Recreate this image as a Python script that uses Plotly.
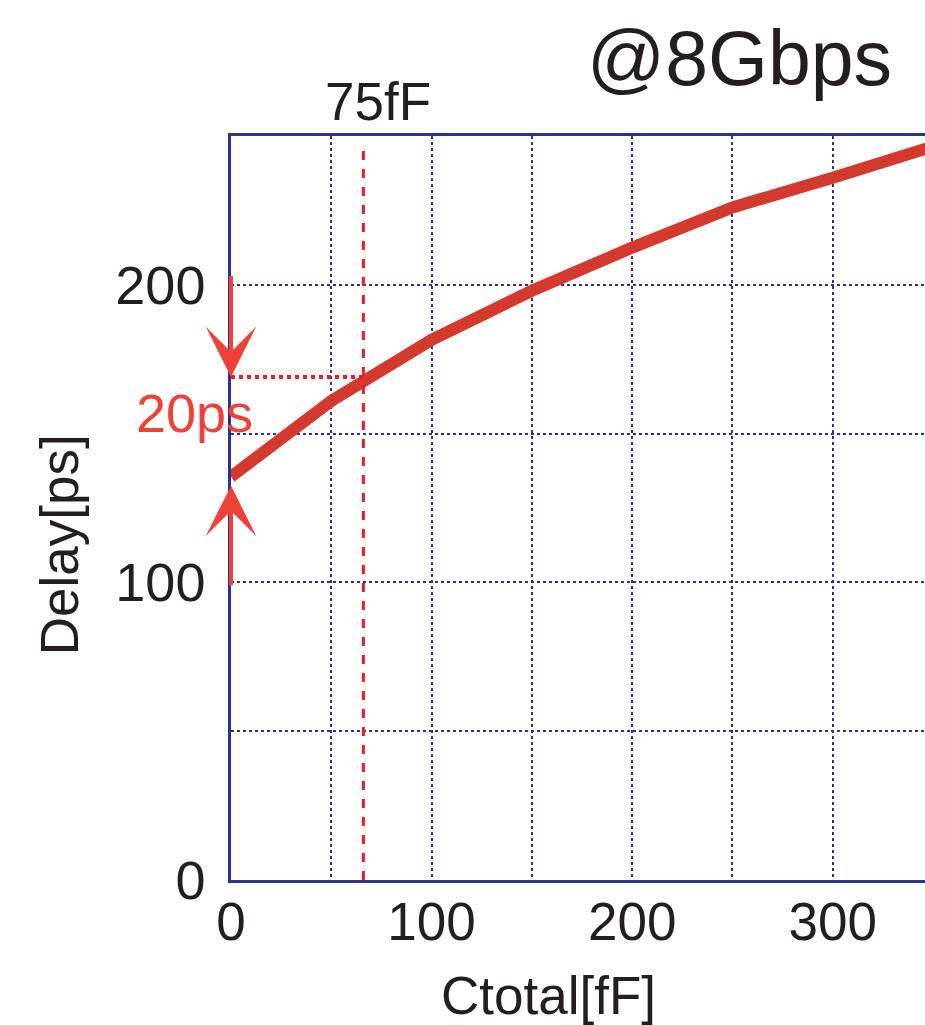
import plotly.graph_objects as go

# Data
ctotal_fF = [0, 50, 100, 150, 200, 250, 300, 350]
delay_ps = [135.5, 161, 181.5, 198, 212.5, 226, 236, 246.5]

marker_c = 66          # dashed vertical marker (labelled 75fF)
marker_delay = 169     # delay at marker
top_arrow_from = 203.5
bottom_arrow_from = 98.5
base_delay = 135.5

x_tickvals = [0, 50, 100, 150, 200, 250, 300]
x_ticktext = ["0", "", "100", "", "200", "", "300"]
y_tickvals = [0, 50, 100, 150, 200, 250]
y_ticktext = ["0", "", "100", "", "200", ""]

NAVY = "#2E3192"
FONT = "Liberation Sans, Arial, sans-serif"
TXT = "#231F20"

fig = go.Figure()
fig.add_trace(go.Scatter(x=ctotal_fF, y=delay_ps, mode="lines",
                         line=dict(color="#D4392D", width=12), showlegend=False))

# dashed vertical line
fig.add_shape(type="line", x0=marker_c, x1=marker_c, y0=0, y1=248, xref="x", yref="y",
              line=dict(color="#EC1C24", width=3, dash="dash"))
# dotted horizontal line
fig.add_shape(type="line", x0=0, x1=marker_c, y0=marker_delay, y1=marker_delay, xref="x", yref="y",
              line=dict(color="#EC1C24", width=4, dash="dot"))

# arrows
fig.add_annotation(x=0, y=marker_delay, ax=0, ay=top_arrow_from, xref="x", yref="y",
                   axref="x", ayref="y", text="", showarrow=True, arrowhead=3,
                   arrowsize=2.1, arrowwidth=4, arrowcolor="#EF4136")
fig.add_annotation(x=0, y=base_delay - 3, ax=0, ay=bottom_arrow_from, xref="x", yref="y",
                   axref="x", ayref="y", text="", showarrow=True, arrowhead=3,
                   arrowsize=2.1, arrowwidth=4, arrowcolor="#EF4136")

# texts
fig.add_annotation(x=0.732, y=1.1055, xref="paper", yref="paper", text="@8Gbps",
                   showarrow=False, font=dict(family=FONT, size=77, color=TXT),
                   xanchor="center", yanchor="middle")
fig.add_annotation(x=0.2118, y=1.047, xref="paper", yref="paper", text="75fF",
                   showarrow=False, font=dict(family=FONT, size=53, color=TXT),
                   xanchor="center", yanchor="middle")
fig.add_annotation(x=-0.0533, y=157, xref="paper", yref="y", text="20ps",
                   showarrow=False, font=dict(family=FONT, size=54, color="#EF4136"),
                   xanchor="center", yanchor="middle")
fig.add_annotation(x=0.458, y=-0.1546, xref="paper", yref="paper", text="Ctotal[fF]",
                   showarrow=False, font=dict(family=FONT, size=53, color=TXT),
                   xanchor="center", yanchor="middle")
fig.add_annotation(x=-0.2478, y=0.450, xref="paper", yref="paper", text="Delay[ps]",
                   showarrow=False, textangle=-90, font=dict(family=FONT, size=53, color=TXT),
                   xanchor="center", yanchor="middle")

fig.update_xaxes(range=[0, 346], tickvals=x_tickvals, ticktext=x_ticktext,
                 showgrid=True, gridcolor=NAVY, gridwidth=1.5, griddash="dot",
                 showline=True, linecolor=NAVY, linewidth=2.5, mirror=True,
                 zeroline=False, ticks="", ticklabelstandoff=-6,
                 tickfont=dict(family=FONT, size=53, color=TXT))
fig.update_yaxes(range=[0, 250], tickvals=y_tickvals, ticktext=y_ticktext,
                 showgrid=True, gridcolor=NAVY, gridwidth=1.5, griddash="dot",
                 showline=True, linecolor=NAVY, linewidth=2.5, mirror=False,
                 zeroline=False, ticks="", ticklabelstandoff=12,
                 tickfont=dict(family=FONT, size=54, color=TXT))

fig.update_layout(width=925, height=1025, margin=dict(l=231, r=0, t=136, b=145),
                  plot_bgcolor="white", paper_bgcolor="white", showlegend=False)

fig.write_html("out.html")
